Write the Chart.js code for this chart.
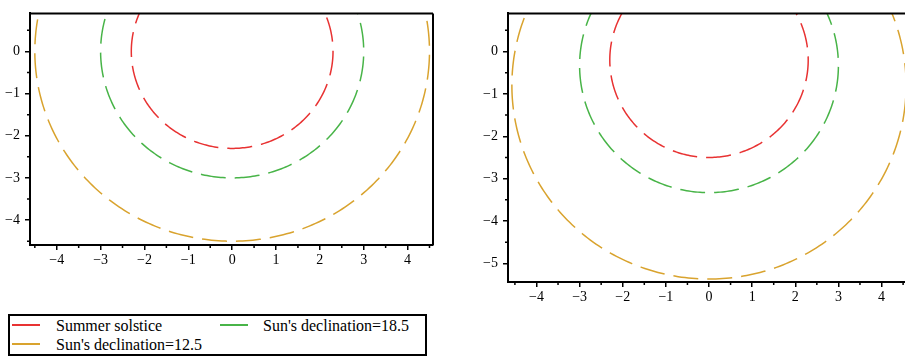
<!DOCTYPE html>
<html>
<head>
<meta charset="utf-8">
<script src="https://cdn.jsdelivr.net/npm/chart.js@4.4.0/dist/chart.umd.min.js"></script>
<style>
html,body{margin:0;padding:0;background:#fff;width:905px;height:358px;overflow:hidden;position:relative;}
#left{position:absolute;left:0;top:0;}
#right{position:absolute;left:450px;top:0;}
#legend{position:absolute;left:8px;top:314px;width:415px;height:38px;border:2px solid #000;
  font-family:"Liberation Serif","Times New Roman",serif;font-size:16px;color:#000;}
#legend .txt{position:absolute;white-space:nowrap;line-height:18px;}
#legend .sw{position:absolute;width:28px;height:2px;}
</style>
</head>
<body>
<canvas id="left" width="450" height="270"></canvas>
<canvas id="right" width="470" height="310"></canvas>
<div id="legend"></div>
<script>
// series (legend order: row by row, 2 columns)
var seriesNames=["Summer solstice","Sun's declination=18.5","Sun's declination=12.5"];
var seriesColors=["#e83232","#48b448","#d9a32e"];
// left panel: circles centred on the origin
var leftRadius=[2.3,3.0,4.5];
var leftCenterY=[0,0,0];
// right panel: shifted circles
var rightRadius=[2.3,3.0,4.57];
var rightCenterY=[-0.2,-0.33,-0.8];
// axis ranges
var leftX=[-4.61,4.58], leftY=[-4.59,0.9];
var rightX=[-4.66,4.66], rightY=[-5.44,0.9];

function circle(r,cy){
  var pts=[];
  for(var i=0;i<=360;i++){
    var a=Math.PI/2+i*Math.PI/180;
    pts.push({x:r*Math.cos(a),y:cy+r*Math.sin(a)});
  }
  return pts;
}

function minus(v){
  return Number.isInteger(v) ? String(v).replace('-','\u2212') : '';
}

var framePlugin={
  id:'frame',
  afterDraw:function(chart){
    var ctx=chart.ctx, a=chart.chartArea, xs=chart.scales.x, ys=chart.scales.y;
    ctx.save();
    ctx.strokeStyle='#000';
    ctx.lineWidth=2;
    ctx.beginPath();
    ctx.moveTo(a.left,a.top);ctx.lineTo(a.right,a.top);
    ctx.moveTo(a.right,a.top);ctx.lineTo(a.right,a.bottom);
    ctx.stroke();
    // minor ticks
    ctx.lineWidth=1.5;
    ctx.beginPath();
    for(var v=Math.ceil(xs.min*2)/2; v<=xs.max; v+=0.5){
      if(Number.isInteger(v)) continue;
      var px=xs.getPixelForValue(v);
      ctx.moveTo(px,a.bottom);ctx.lineTo(px,a.bottom+3);
    }
    for(var w=Math.ceil(ys.min*2)/2; w<=ys.max; w+=0.5){
      if(Number.isInteger(w)) continue;
      var py=ys.getPixelForValue(w);
      ctx.moveTo(a.left,py);ctx.lineTo(a.left-3,py);
    }
    ctx.stroke();
    ctx.restore();
  }
};

function makeChart(id,xr,yr,radius,centerY,yWidth,xHeight,pad){
  var datasets=[];
  for(var i=0;i<seriesNames.length;i++){
    datasets.push({
      label:seriesNames[i],
      data:circle(radius[i],centerY[i]),
      showLine:true,
      borderColor:seriesColors[i],
      borderWidth:1.5,
      borderDash:[25,9],
      pointRadius:0,
      fill:false
    });
  }
  var tickFont={family:'"Liberation Serif", "Times New Roman", serif',size:14};
  return new Chart(document.getElementById(id),{
    type:'scatter',
    data:{datasets:datasets},
    options:{
      responsive:false,
      devicePixelRatio:1,
      animation:false,
      layout:{padding:pad},
      plugins:{legend:{display:false},tooltip:{enabled:false}},
      scales:{
        x:{
          type:'linear',min:xr[0],max:xr[1],
          afterFit:function(s){s.height=xHeight;},
          border:{display:true,color:'#000',width:2},
          grid:{drawOnChartArea:false,drawTicks:true,tickLength:5,color:'#000',lineWidth:1.5},
          ticks:{stepSize:1,includeBounds:false,autoSkip:false,maxRotation:0,padding:2,color:'#000',font:tickFont,callback:minus}
        },
        y:{
          type:'linear',min:yr[0],max:yr[1],
          afterFit:function(s){s.width=yWidth;},
          border:{display:true,color:'#000',width:2},
          grid:{drawOnChartArea:false,drawTicks:true,tickLength:5,color:'#000',lineWidth:1.5},
          ticks:{stepSize:1,includeBounds:false,autoSkip:false,padding:5,color:'#000',font:tickFont,callback:minus}
        }
      }
    },
    plugins:[framePlugin]
  });
}

function draw(){
  makeChart('left',leftX,leftY,leftRadius,leftCenterY,30,25,{top:3,right:17,left:0,bottom:0});
  makeChart('right',rightX,rightY,rightRadius,rightCenterY,58,28,{top:6,right:10,left:0,bottom:0});
}

// legend
var legend=document.getElementById('legend');
var slots=[{sx:2,sy:8,tx:46,ty:1},{sx:210,sy:8,tx:253,ty:1},{sx:2,sy:27,tx:46,ty:20}];
for(var k=0;k<seriesNames.length;k++){
  var sw=document.createElement('div');
  sw.className='sw';
  sw.style.left=slots[k].sx+'px';sw.style.top=slots[k].sy+'px';
  sw.style.background=seriesColors[k];
  legend.appendChild(sw);
  var t=document.createElement('div');
  t.className='txt';
  t.style.left=slots[k].tx+'px';t.style.top=slots[k].ty+'px';
  t.textContent=seriesNames[k];
  legend.appendChild(t);
}

if(document.fonts && document.fonts.load){
  document.fonts.load('14px "Liberation Serif"').then(draw,draw);
}else{
  draw();
}
</script>
</body>
</html>
